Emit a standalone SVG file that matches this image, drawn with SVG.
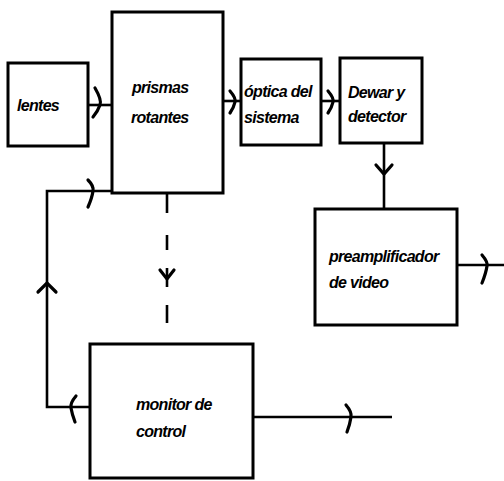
<svg xmlns="http://www.w3.org/2000/svg" width="504" height="481" viewBox="0 0 504 481">
<style>
.box{fill:#fff;stroke:#000;stroke-width:3}
.ln{fill:none;stroke:#000;stroke-width:2.6}
.ah{fill:none;stroke:#000;stroke-width:3.2;stroke-linecap:round}
.t{font-family:"Liberation Sans",Arial,sans-serif;font-weight:bold;font-style:italic;font-size:16px;fill:#000;letter-spacing:-0.7px}
</style>
<rect width="504" height="481" fill="#fff"/>
<g id="connectors">
<path class="ln" d="M88 105 H112"/>
<path class="ah" d="M95 88 Q102 100 100 105 Q98 111 93 117"/>
<path class="ln" d="M223 101 H241"/>
<path class="ah" d="M230 91 Q236 98 235 102 Q234 107 230 113"/>
<path class="ln" d="M321 101 H340"/>
<path class="ah" d="M328 91 Q334 98 333 102 Q332 107 328 113"/>
<path class="ln" d="M384 143 V209"/>
<path class="ah" d="M376 165 L384 174 L392 165"/>
<path class="ln" d="M457 265 H504"/>
<path class="ah" d="M482 255 Q488 262 487 266 Q486 273 482 283"/>
<path class="ln" d="M167 193 V213 M167 235 V250 M167 305 V323"/>
<path class="ln" d="M167 268 V287"/>
<path class="ah" d="M160 270 L167 279 L174 270"/>
<path class="ln" d="M112 191 H47 V407 H90"/>
<path class="ah" d="M88 180 Q94 186 93 191 Q92 198 88 207"/>
<path class="ah" d="M38 292 L47 283 L56 292"/>
<path class="ah" d="M76 396 Q70 403 71 408 Q72 414 75 422"/>
<path class="ln" d="M253 417 H392"/>
<path class="ah" d="M346 405 Q352 412 351 417 Q350 424 347 432"/>
</g>
<g id="lentes">
<rect class="box" x="8" y="63" width="80" height="83"/>
<text class="t" x="17" y="111">lentes</text>
</g>
<g id="prismas">
<rect class="box" x="112" y="12" width="111" height="181"/>
<text class="t" x="132" y="93">prismas</text>
<text class="t" x="131" y="123">rotantes</text>
</g>
<g id="optica">
<rect class="box" x="241" y="59" width="80" height="86"/>
<text class="t" x="244" y="97">óptica del</text>
<text class="t" x="244" y="123">sistema</text>
</g>
<g id="dewar">
<rect class="box" x="340" y="58" width="82" height="85"/>
<text class="t" x="348" y="98">Dewar y</text>
<text class="t" x="348" y="122">detector</text>
</g>
<g id="preamp">
<rect class="box" x="315" y="209" width="142" height="116"/>
<text class="t" x="329" y="262">preamplificador</text>
<text class="t" x="329" y="288">de video</text>
</g>
<g id="monitor">
<rect class="box" x="90" y="344" width="163" height="134"/>
<text class="t" x="136" y="410">monitor de</text>
<text class="t" x="136" y="437">control</text>
</g>
</svg>
